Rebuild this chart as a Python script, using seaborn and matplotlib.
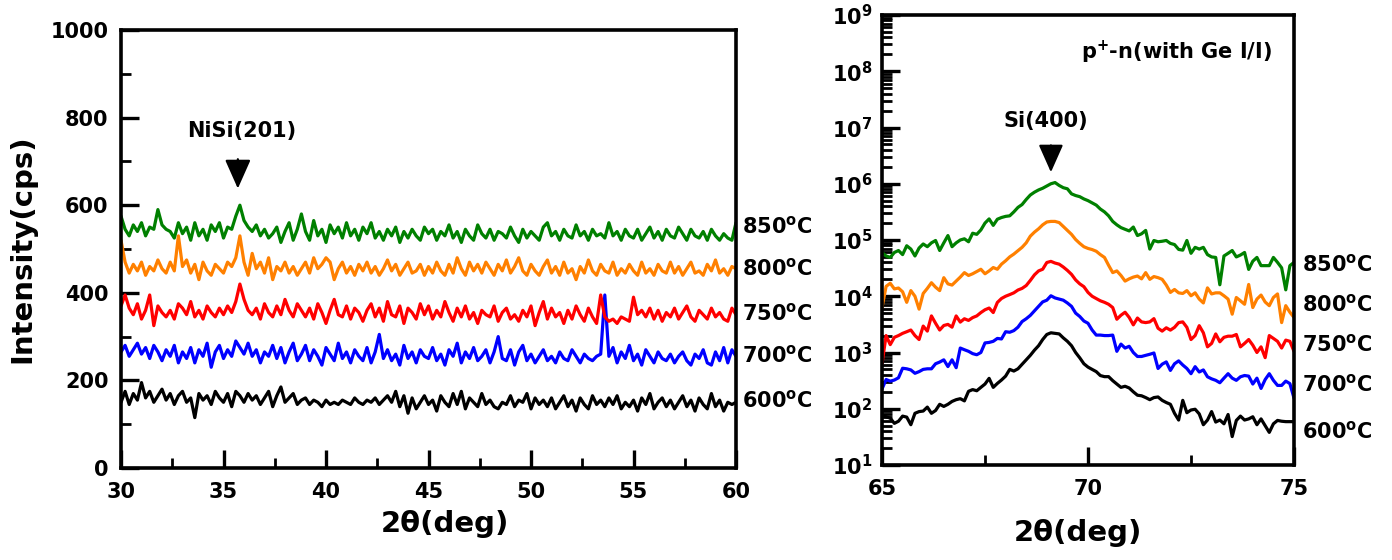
import numpy as np
import pandas as pd
import matplotlib
matplotlib.use("Agg")
import matplotlib.pyplot as plt
import seaborn as sns
from matplotlib.ticker import MultipleLocator, LogLocator, NullFormatter, FixedLocator, FixedFormatter

# ---------------- data ----------------
temps = ["600", "700", "750", "800", "850"]
colors = {"600": "#000000", "700": "#0000ff", "750": "#ff0000", "800": "#ff8000", "850": "#008000"}

# Left panel: 2theta 30..60 deg, step 0.2 (151 points), intensity in cps
two_theta_left = np.linspace(30, 60, 151)
nisi_850 = [575, 545, 530, 555, 540, 560, 530, 550, 545, 590, 555, 545, 540, 525, 560,
            535, 550, 520, 560, 530, 545, 520, 555, 540, 560, 525, 550, 545, 575, 600,
            565, 550, 540, 555, 530, 545, 525, 535, 550, 515, 540, 560, 520, 545, 580,
            540, 520, 565, 530, 545, 515, 555, 535, 550, 525, 560, 530, 545, 520, 550,
            535, 560, 525, 540, 520, 545, 530, 550, 515, 540, 525, 545, 530, 520, 550,
            535, 545, 520, 540, 530, 555, 525, 540, 515, 545, 530, 520, 555, 535, 525,
            545, 520, 540, 535, 525, 550, 530, 515, 545, 525, 540, 530, 520, 550, 560,
            530, 540, 520, 545, 530, 525, 555, 530, 540, 520, 545, 530, 535, 525, 560,
            530, 540, 520, 545, 530, 525, 545, 520, 535, 550, 525, 540, 520, 545, 530,
            525, 550, 535, 520, 545, 530, 525, 540, 520, 545, 530, 520, 535, 525, 520,
            560]
nisi_800 = [520, 470, 445, 465, 450, 470, 440, 460, 450, 475, 455, 445, 470, 450, 530,
            460, 475, 445, 465, 430, 470, 450, 440, 465, 455, 445, 470, 460, 480, 530,
            470, 440, 490, 455, 470, 445, 480, 430, 460, 450, 470, 445, 460, 440, 455,
            470, 445, 480, 455, 465, 480, 470, 430, 455, 470, 445, 460, 440, 465, 450,
            470, 445, 460, 440, 455, 475, 450, 465, 440, 455, 470, 445, 450, 465, 440,
            460, 445, 470, 450, 440, 465, 445, 480, 455, 440, 470, 450, 465, 445, 470,
            455, 440, 465, 450, 475, 445, 460, 480, 450, 440, 465, 450, 440, 460, 475,
            445, 460, 440, 470, 445, 455, 430, 460, 445, 475, 450, 440, 465, 450, 445,
            470, 440, 455, 445, 465, 450, 440, 470, 445, 455, 440, 465, 450, 445, 470,
            445, 460, 440, 455, 470, 445, 450, 440, 465, 450, 475, 445, 455, 440, 460,
            455]
nisi_750 = [370, 395, 365, 350, 375, 340, 360, 395, 325, 370, 355, 345, 360, 340, 375,
            365, 350, 380, 345, 360, 340, 370, 355, 345, 365, 350, 370, 355, 380, 420,
            385, 360, 350, 365, 340, 375, 355, 345, 370, 350, 385, 360, 345, 375, 360,
            345, 365, 340, 375, 355, 330, 360, 385, 350, 345, 370, 340, 365, 355, 335,
            360, 375, 345, 365, 335, 380, 350, 345, 370, 330, 365, 355, 340, 375, 350,
            370, 340, 360, 345, 380, 355, 335, 365, 345, 370, 340, 355, 330, 360, 350,
            345, 370, 335, 355, 365, 340, 350, 335, 360, 345, 370, 325, 355, 380, 340,
            365, 345, 355, 330, 360, 340, 370, 350, 335, 365, 345, 330, 395, 345, 335,
            340, 330, 345, 340, 335, 390, 350, 360, 345, 365, 340, 360, 335, 355, 345,
            365, 340, 355, 370, 345, 335, 360, 350, 340, 365, 345, 355, 340, 335, 365,
            350]
nisi_700 = [265, 280, 255, 270, 285, 260, 275, 250, 280, 265, 245, 270, 255, 280, 240,
            265, 250, 275, 240, 270, 255, 285, 230, 265, 280, 250, 270, 255, 290, 275,
            260, 285, 255, 270, 240, 265, 255, 280, 250, 275, 240, 265, 285, 245, 260,
            280, 245, 270, 255, 235, 275, 260, 245, 285, 250, 265, 240, 270, 255, 245,
            275, 240, 265, 305, 250, 270, 245, 260, 235, 280, 250, 265, 240, 270, 255,
            250, 275, 245, 260, 235, 270, 255, 285, 240, 265, 250, 275, 245, 255, 270,
            240, 265, 300, 250, 245, 270, 235, 265, 280, 245, 260, 240, 255, 270, 245,
            255, 240, 265, 250, 245, 270, 255, 240, 260, 250, 245, 255, 260, 395, 255,
            275, 240, 265, 250, 280, 245, 260, 235, 270, 255, 240, 265, 250, 245, 260,
            240, 255, 265, 245, 235, 260, 250, 270, 240, 235, 265, 245, 275, 240, 270,
            255]
nisi_600 = [150, 175, 145, 170, 155, 195, 160, 175, 150, 165, 180, 155, 170, 145, 165,
            175, 150, 160, 115, 170, 155, 165, 145, 175, 160, 150, 170, 140, 175, 165,
            150, 170, 155, 165, 145, 160, 175, 140, 165, 185, 150, 160, 170, 145, 155,
            160, 145, 155, 150, 140, 155, 145, 150, 145, 155, 150, 145, 160, 150, 145,
            155, 150, 160, 145, 155, 165, 150, 175, 140, 165, 125, 160, 135, 150, 165,
            145, 155, 130, 165, 150, 140, 170, 145, 175, 135, 160, 150, 140, 170, 145,
            155, 140, 135, 150, 145, 165, 140, 155, 150, 170, 135, 160, 145, 155, 140,
            160, 135, 150, 165, 140, 155, 130, 160, 145, 135, 165, 145, 155, 140, 160,
            145, 165, 135, 150, 140, 155, 130, 160, 145, 170, 135, 150, 160, 140, 155,
            135, 150, 165, 140, 155, 130, 160, 145, 135, 170, 140, 155, 130, 150, 145,
            150]

# Right panel: 2theta 65..75 deg, step 0.1 (101 points), intensity in cps (log axis)
two_theta_right = np.linspace(65, 75, 101)
si_850 = [6.0e4, 5.2e4, 4.9e4, 6.0e4, 6.5e4, 5.5e4, 7.9e4, 6.9e4, 5.2e4, 7.2e4,
          8.5e4, 7.6e4, 8.9e4, 9.8e4, 6.5e4, 8.9e4, 1.2e5, 7.6e4, 8.9e4, 1.0e5,
          1.05e5, 9.3e4, 1.32e5, 1.26e5, 1.51e5, 2.0e5, 2.37e5, 1.82e5, 2.34e5, 2.51e5,
          2.63e5, 2.69e5, 3.16e5, 3.8e5, 4.27e5, 5.25e5, 6.31e5, 7.08e5, 7.76e5, 8.32e5,
          9.12e5, 1.0e6, 1.05e6, 9.33e5, 8.51e5, 8.13e5, 6.61e5, 6.17e5, 5.89e5, 5.37e5,
          5.01e5, 4.57e5, 4.17e5, 3.55e5, 3.16e5, 2.69e5, 2.14e5, 1.86e5, 1.66e5, 1.55e5,
          1.45e5, 1.70e5, 1.20e5, 1.29e5, 1.48e5, 6.9e4, 9.8e4, 9.3e4, 9.5e4, 9.8e4,
          8.7e4, 8.3e4, 6.8e4, 6.6e4, 9.8e4, 5.8e4, 7.4e4, 6.9e4, 7.4e4, 5.5e4,
          5.0e4, 4.9e4, 1.6e4, 5.2e4, 5.8e4, 6.5e4, 5.0e4, 5.4e4, 6.0e4, 3.0e4,
          4.2e4, 4.9e4, 3.5e4, 3.5e4, 3.5e4, 4.9e4, 4.0e4, 3.2e4, 1.3e4, 3.5e4,
          4.0e4]
si_800 = [6.3e3, 1.5e4, 1.7e4, 1.35e4, 1.4e4, 1.2e4, 7.8e3, 1.26e4, 1.0e4, 5.9e3,
          1.12e4, 1.38e4, 1.74e4, 1.45e4, 1.26e4, 2.14e4, 1.66e4, 1.58e4, 1.86e4, 2.19e4,
          2.63e4, 2.34e4, 2.51e4, 2.75e4, 3.02e4, 2.51e4, 2.82e4, 3.24e4, 3.02e4, 3.72e4,
          4.27e4, 5.01e4, 5.62e4, 6.46e4, 7.41e4, 8.91e4, 1.17e5, 1.38e5, 1.58e5, 1.86e5,
          2.09e5, 2.14e5, 2.14e5, 2.04e5, 1.74e5, 1.48e5, 1.26e5, 1.02e5, 8.71e4, 7.59e4,
          7.08e4, 6.76e4, 6.31e4, 5.50e4, 4.90e4, 3.55e4, 2.63e4, 2.82e4, 2.34e4, 1.86e4,
          2.04e4, 2.19e4, 2.29e4, 2.04e4, 2.63e4, 2.0e4, 2.24e4, 2.14e4, 2.0e4, 1.58e4,
          1.17e4, 1.32e4, 1.15e4, 1.12e4, 1.26e4, 1.02e4, 1.15e4, 8.9e3, 7.6e3, 1.41e4,
          1.10e4, 1.15e4, 1.15e4, 1.02e4, 8.9e3, 4.8e3, 9.5e3, 8.3e3, 7.2e3, 1.62e4,
          6.3e3, 8.9e3, 1.05e4, 7.9e3, 6.8e3, 9.5e3, 1.10e4, 3.4e3, 6.8e3, 5.2e3,
          4.2e3]
si_750 = [6.3e2, 2.0e3, 1.38e3, 1.86e3, 2.0e3, 2.19e3, 2.34e3, 2.51e3, 2.0e3, 1.70e3,
          2.95e3, 2.40e3, 4.47e3, 3.31e3, 2.51e3, 3.02e3, 3.16e3, 2.82e3, 4.47e3, 3.47e3,
          3.98e3, 3.72e3, 4.17e3, 4.47e3, 5.13e3, 5.75e3, 6.17e3, 5.13e3, 7.76e3, 9.12e3,
          1.0e4, 1.07e4, 1.15e4, 1.29e4, 1.38e4, 1.55e4, 1.91e4, 2.40e4, 2.82e4, 3.02e4,
          3.98e4, 4.17e4, 3.89e4, 3.72e4, 3.31e4, 2.88e4, 2.45e4, 1.95e4, 1.66e4, 1.48e4,
          1.17e4, 1.0e4, 9.1e3, 8.3e3, 7.8e3, 7.2e3, 6.3e3, 3.9e3, 4.6e3, 5.2e3,
          4.2e3, 3.1e3, 4.1e3, 3.5e3, 3.4e3, 3.5e3, 4.0e3, 2.7e3, 2.4e3, 2.75e3,
          2.5e3, 2.8e3, 3.4e3, 3.5e3, 2.8e3, 1.7e3, 2.0e3, 3.0e3, 2.24e3, 1.26e3,
          1.45e3, 2.14e3, 1.55e3, 1.86e3, 1.95e3, 1.95e3, 2.09e3, 1.26e3, 1.45e3, 1.70e3,
          1.35e3, 1.0e3, 1.26e3, 8.1e2, 2.0e3, 1.78e3, 1.58e3, 1.20e3, 1.66e3, 1.58e3,
          1.05e3]
si_700 = [2.24e2, 3.31e2, 3.09e2, 3.24e2, 3.55e2, 5.25e2, 5.13e2, 4.90e2, 4.27e2, 4.57e2,
          5.01e2, 5.13e2, 5.13e2, 6.31e2, 6.76e2, 7.41e2, 5.62e2, 7.41e2, 5.37e2, 1.20e3,
          1.12e3, 1.05e3, 9.55e2, 9.12e2, 1.0e3, 1.48e3, 1.51e3, 1.58e3, 1.78e3, 1.74e3,
          2.34e3, 2.29e3, 2.45e3, 2.82e3, 3.55e3, 3.98e3, 4.57e3, 5.50e3, 6.61e3, 7.94e3,
          8.51e3, 1.02e4, 9.33e3, 8.91e3, 8.51e3, 7.59e3, 6.61e3, 5.01e3, 4.37e3, 3.63e3,
          3.31e3, 2.51e3, 2.04e3, 2.04e3, 2.0e3, 2.0e3, 2.04e3, 1.05e3, 1.41e3, 1.20e3,
          1.29e3, 1.0e3, 8.5e2, 8.5e2, 8.9e2, 9.3e2, 9.8e2, 5.2e2, 6.2e2, 6.8e2,
          4.8e2, 6.3e2, 7.1e2, 6.0e2, 5.2e2, 4.2e2, 5.6e2, 4.5e2, 4.9e2, 3.7e2,
          3.4e2, 3.2e2, 2.9e2, 3.5e2, 4.2e2, 3.5e2, 3.2e2, 3.7e2, 3.9e2, 3.8e2,
          2.75e2, 3.5e2, 2.3e2, 3.3e2, 4.2e2, 3.2e2, 2.6e2, 2.6e2, 3.1e2, 2.8e2,
          1.55e2]
si_600 = [76, 72, 68, 55, 60, 74, 71, 52, 83, 89,
          91, 107, 83, 93, 120, 110, 120, 135, 145, 151,
          138, 204, 219, 209, 240, 275, 347, 240, 282, 324,
          380, 501, 468, 513, 617, 741, 891, 1100, 1320, 1700,
          2090, 2240, 2190, 2140, 1820, 1580, 1320, 1000, 804, 631,
          550, 501, 457, 389, 372, 372, 316, 275, 240, 251,
          234, 200, 174, 170, 158, 145, 158, 162, 141, 129,
          120, 83, 63, 141, 85, 95, 98, 81, 52, 63,
          89, 58, 63, 54, 79, 32, 62, 74, 63, 66,
          72, 52, 66, 50, 38, 54, 62, 60, 59, 59,
          59]

# Label positions of the temperature tags (data units)
left_tag_y = {"850": 552, "800": 456, "750": 354, "700": 256, "600": 155}
right_tag_y = {"850": 3.7e4, "800": 7.2e3, "750": 1.4e3, "700": 2.7e2, "600": 39}

# ---------------- build tables ----------------
left_series = {"600": nisi_600, "700": nisi_700, "750": nisi_750, "800": nisi_800, "850": nisi_850}
right_series = {"600": si_600, "700": si_700, "750": si_750, "800": si_800, "850": si_850}
df_left = pd.concat([pd.DataFrame({"two_theta": two_theta_left, "intensity": v, "temp": k})
                     for k, v in left_series.items()], ignore_index=True)
df_right = pd.concat([pd.DataFrame({"two_theta": two_theta_right, "intensity": v, "temp": k})
                      for k, v in right_series.items()], ignore_index=True)

# ---------------- style ----------------
sns.set_theme(style="ticks")
plt.rcParams["font.family"] = ["DejaVu Sans"]
plt.rcParams["font.weight"] = "bold"
plt.rcParams["mathtext.fontset"] = "custom"
plt.rcParams["mathtext.rm"] = "DejaVu Sans:bold"
plt.rcParams["mathtext.it"] = "DejaVu Sans:bold"
plt.rcParams["mathtext.bf"] = "DejaVu Sans:bold"
plt.rcParams["mathtext.default"] = "rm"
plt.rcParams["axes.linewidth"] = 2.6
for key in ("text.color", "axes.labelcolor", "xtick.color", "ytick.color", "axes.edgecolor"):
    plt.rcParams[key] = "black"

fig = plt.figure(figsize=(13.92, 5.6), dpi=100)
axL = fig.add_axes([121/1392, 1-468/560, (736-121)/1392, (468-30)/560])
axR = fig.add_axes([882/1392, 1-465/560, (1294-882)/1392, (465-15)/560])

sns.lineplot(data=df_left, x="two_theta", y="intensity", hue="temp", palette=colors,
             estimator=None, sort=False, legend=False, linewidth=2.3, ax=axL)
sns.lineplot(data=df_right, x="two_theta", y="intensity", hue="temp", palette=colors,
             estimator=None, sort=False, legend=False, linewidth=2.3, ax=axR)

FS = 15
LFS = 21
# Left axes
axL.set_xlim(30, 60)
axL.set_ylim(0, 1000)
axL.xaxis.set_major_locator(MultipleLocator(5))
axL.xaxis.set_minor_locator(MultipleLocator(2.5))
axL.yaxis.set_major_locator(MultipleLocator(200))
axL.yaxis.set_minor_locator(MultipleLocator(100))
axL.set_xlabel("2θ(deg)", fontsize=LFS, fontweight="bold")
axL.set_ylabel("Intensity(cps)", fontsize=LFS, fontweight="bold")
axL.xaxis.set_label_coords(0.527, -0.095)
axL.yaxis.set_label_coords(-0.138, 0.5)

# Right axes
axR.set_yscale("log")
axR.set_xlim(65, 75)
axR.set_ylim(10, 1e9)
axR.xaxis.set_major_locator(MultipleLocator(5))
axR.xaxis.set_minor_locator(MultipleLocator(2.5))
decades = [10.0**k for k in range(1, 10)]
axR.yaxis.set_major_locator(FixedLocator(decades))
axR.yaxis.set_major_formatter(FixedFormatter([r"$10^{%d}$" % k for k in range(1, 10)]))
axR.yaxis.set_minor_locator(LogLocator(base=10, subs=np.arange(2, 10), numticks=20))
axR.yaxis.set_minor_formatter(NullFormatter())
axR.set_xlabel("2θ(deg)", fontsize=LFS, fontweight="bold")
axR.set_ylabel("")
axR.xaxis.set_label_coords(0.476, -0.12)

for ax in (axL, axR):
    ax.tick_params(which="major", direction="in", length=13, width=2.4, labelsize=FS, pad=9,
                   color="black", labelcolor="black")
    ax.tick_params(which="minor", direction="in", length=7.5, width=2.0, color="black")
    ax.tick_params(axis="x", which="major", pad=10)
    for lab in ax.get_xticklabels() + ax.get_yticklabels():
        lab.set_fontweight("bold")
    for s in ax.spines.values():
        s.set_linewidth(2.6)
        s.set_color("black")
axR.tick_params(axis="y", which="major", pad=7)

# Temperature tags
for t in temps:
    axL.annotate(t + r"$^{\mathrm{o}}$C", xy=(1.01, left_tag_y[t]), xycoords=("axes fraction", "data"),
                 ha="left", va="center", fontsize=FS, fontweight="bold", annotation_clip=False)
    axR.annotate(t + r"$^{\mathrm{o}}$C", xy=(1.02, right_tag_y[t]), xycoords=("axes fraction", "data"),
                 ha="left", va="center", fontsize=FS, fontweight="bold", annotation_clip=False)

# Peak annotations
axL.annotate("", xy=(35.7, 638), xytext=(35.7, 705),
             arrowprops=dict(arrowstyle="-|>,head_length=0.45,head_width=0.2",
                             mutation_scale=40, lw=1.6, color="black", shrinkA=0, shrinkB=0))
axL.text(35.9, 770, "NiSi(201)", ha="center", va="center", fontsize=FS, fontweight="bold")

axR.annotate("", xy=(69.1, 1.6e6), xytext=(69.1, 4.8e6),
             arrowprops=dict(arrowstyle="-|>,head_length=0.45,head_width=0.2",
                             mutation_scale=38, lw=1.6, color="black", shrinkA=0, shrinkB=0))
axR.text(68.98, 1.33e7, "Si(400)", ha="center", va="center", fontsize=FS, fontweight="bold")
axR.text(0.947, 0.918, r"p$^{+}$-n(with Ge I/I)", transform=axR.transAxes,
         ha="right", va="center", fontsize=FS, fontweight="bold")

fig.savefig("out.png", dpi=100)
